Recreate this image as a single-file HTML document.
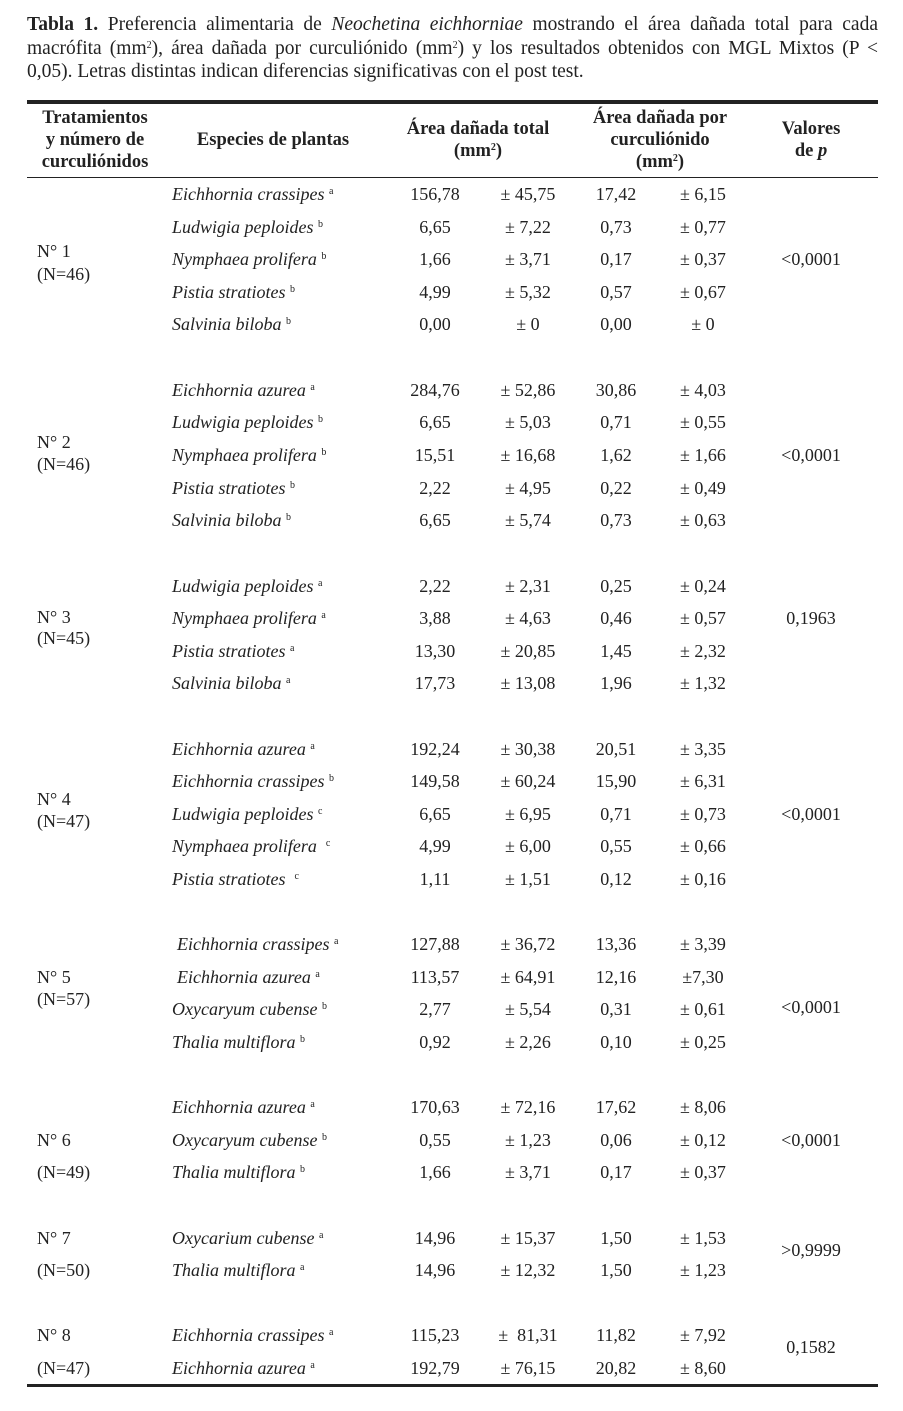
<!DOCTYPE html>
<html><head><meta charset="utf-8"><style>
body{margin:0;width:903px;height:1411px;background:#fff;font-family:"Liberation Serif",serif;color:#222;position:relative;overflow:hidden}
.cl{position:absolute;left:27px;width:851px;font-size:19.5px;line-height:23px;white-space:nowrap}
.j{text-align:justify;text-align-last:justify}
.t{position:absolute;font-size:18px;line-height:20px;white-space:nowrap}
.sp{font-style:italic}
.c{transform:translateX(-50%)}
sup{font-size:10px;font-style:normal;vertical-align:6px;line-height:0}
.h{position:absolute;font-weight:bold;font-size:18.5px;line-height:22px;text-align:center;white-space:nowrap}
.rule{position:absolute;left:27px;width:851px;background:#222}
</style></head><body>
<div class="cl j" style="top:13px"><b>Tabla 1.</b> Preferencia alimentaria de <i>Neochetina eichhorniae</i> mostrando el área dañada total para cada</div>
<div class="cl j" style="top:37px">macrófita (mm<sup>2</sup>), área dañada por curculiónido (mm<sup>2</sup>) y los resultados obtenidos con MGL Mixtos (P &lt;</div>
<div class="cl" style="top:60px">0,05). Letras distintas indican diferencias significativas con el post test.</div>
<div class="rule" style="top:100px;height:4px"></div>
<div class="rule" style="top:177px;height:1px"></div>
<div class="rule" style="top:1384px;height:3px"></div>
<div class="h" style="left:30px;top:107px;width:130px">Tratamientos<br>y número de<br>curculiónidos</div>
<div class="h" style="left:178px;top:129px;width:190px">Especies de plantas</div>
<div class="h" style="left:388px;top:118px;width:180px">Área dañada total<br>(mm<sup>2</sup>)</div>
<div class="h" style="left:570px;top:107px;width:180px">Área dañada por<br>curculiónido<br>(mm<sup>2</sup>)</div>
<div class="h" style="left:761px;top:118px;width:100px">Valores<br>de <i>p</i></div>

<!-- G1 -->
<div class="t" style="left:37px;top:241px">N° 1</div><div class="t" style="left:37px;top:264px">(N=46)</div>
<div class="t c" style="left:811px;top:249px">&lt;0,0001</div>
<div class="t sp" style="left:172px;top:184px">Eichhornia crassipes <sup>a</sup></div><div class="t c" style="left:435px;top:184px">156,78</div><div class="t c" style="left:528px;top:184px">± 45,75</div><div class="t c" style="left:616px;top:184px">17,42</div><div class="t c" style="left:703px;top:184px">± 6,15</div>
<div class="t sp" style="left:172px;top:217px">Ludwigia peploides <sup>b</sup></div><div class="t c" style="left:435px;top:217px">6,65</div><div class="t c" style="left:528px;top:217px">± 7,22</div><div class="t c" style="left:616px;top:217px">0,73</div><div class="t c" style="left:703px;top:217px">± 0,77</div>
<div class="t sp" style="left:172px;top:249px">Nymphaea prolifera <sup>b</sup></div><div class="t c" style="left:435px;top:249px">1,66</div><div class="t c" style="left:528px;top:249px">± 3,71</div><div class="t c" style="left:616px;top:249px">0,17</div><div class="t c" style="left:703px;top:249px">± 0,37</div>
<div class="t sp" style="left:172px;top:282px">Pistia stratiotes <sup>b</sup></div><div class="t c" style="left:435px;top:282px">4,99</div><div class="t c" style="left:528px;top:282px">± 5,32</div><div class="t c" style="left:616px;top:282px">0,57</div><div class="t c" style="left:703px;top:282px">± 0,67</div>
<div class="t sp" style="left:172px;top:314px">Salvinia biloba <sup>b</sup></div><div class="t c" style="left:435px;top:314px">0,00</div><div class="t c" style="left:528px;top:314px">± 0</div><div class="t c" style="left:616px;top:314px">0,00</div><div class="t c" style="left:703px;top:314px">± 0</div>

<!-- G2 -->
<div class="t" style="left:37px;top:432px">N° 2</div><div class="t" style="left:37px;top:454px">(N=46)</div>
<div class="t c" style="left:811px;top:445px">&lt;0,0001</div>
<div class="t sp" style="left:172px;top:380px">Eichhornia azurea <sup>a</sup></div><div class="t c" style="left:435px;top:380px">284,76</div><div class="t c" style="left:528px;top:380px">± 52,86</div><div class="t c" style="left:616px;top:380px">30,86</div><div class="t c" style="left:703px;top:380px">± 4,03</div>
<div class="t sp" style="left:172px;top:412px">Ludwigia peploides <sup>b</sup></div><div class="t c" style="left:435px;top:412px">6,65</div><div class="t c" style="left:528px;top:412px">± 5,03</div><div class="t c" style="left:616px;top:412px">0,71</div><div class="t c" style="left:703px;top:412px">± 0,55</div>
<div class="t sp" style="left:172px;top:445px">Nymphaea prolifera <sup>b</sup></div><div class="t c" style="left:435px;top:445px">15,51</div><div class="t c" style="left:528px;top:445px">± 16,68</div><div class="t c" style="left:616px;top:445px">1,62</div><div class="t c" style="left:703px;top:445px">± 1,66</div>
<div class="t sp" style="left:172px;top:478px">Pistia stratiotes <sup>b</sup></div><div class="t c" style="left:435px;top:478px">2,22</div><div class="t c" style="left:528px;top:478px">± 4,95</div><div class="t c" style="left:616px;top:478px">0,22</div><div class="t c" style="left:703px;top:478px">± 0,49</div>
<div class="t sp" style="left:172px;top:510px">Salvinia biloba <sup>b</sup></div><div class="t c" style="left:435px;top:510px">6,65</div><div class="t c" style="left:528px;top:510px">± 5,74</div><div class="t c" style="left:616px;top:510px">0,73</div><div class="t c" style="left:703px;top:510px">± 0,63</div>

<!-- G3 -->
<div class="t" style="left:37px;top:607px">N° 3</div><div class="t" style="left:37px;top:628px">(N=45)</div>
<div class="t c" style="left:811px;top:608px">0,1963</div>
<div class="t sp" style="left:172px;top:576px">Ludwigia peploides <sup>a</sup></div><div class="t c" style="left:435px;top:576px">2,22</div><div class="t c" style="left:528px;top:576px">± 2,31</div><div class="t c" style="left:616px;top:576px">0,25</div><div class="t c" style="left:703px;top:576px">± 0,24</div>
<div class="t sp" style="left:172px;top:608px">Nymphaea prolifera <sup>a</sup></div><div class="t c" style="left:435px;top:608px">3,88</div><div class="t c" style="left:528px;top:608px">± 4,63</div><div class="t c" style="left:616px;top:608px">0,46</div><div class="t c" style="left:703px;top:608px">± 0,57</div>
<div class="t sp" style="left:172px;top:641px">Pistia stratiotes <sup>a</sup></div><div class="t c" style="left:435px;top:641px">13,30</div><div class="t c" style="left:528px;top:641px">± 20,85</div><div class="t c" style="left:616px;top:641px">1,45</div><div class="t c" style="left:703px;top:641px">± 2,32</div>
<div class="t sp" style="left:172px;top:673px">Salvinia biloba <sup>a</sup></div><div class="t c" style="left:435px;top:673px">17,73</div><div class="t c" style="left:528px;top:673px">± 13,08</div><div class="t c" style="left:616px;top:673px">1,96</div><div class="t c" style="left:703px;top:673px">± 1,32</div>

<!-- G4 -->
<div class="t" style="left:37px;top:789px">N° 4</div><div class="t" style="left:37px;top:811px">(N=47)</div>
<div class="t c" style="left:811px;top:804px">&lt;0,0001</div>
<div class="t sp" style="left:172px;top:739px">Eichhornia azurea <sup>a</sup></div><div class="t c" style="left:435px;top:739px">192,24</div><div class="t c" style="left:528px;top:739px">± 30,38</div><div class="t c" style="left:616px;top:739px">20,51</div><div class="t c" style="left:703px;top:739px">± 3,35</div>
<div class="t sp" style="left:172px;top:771px">Eichhornia crassipes <sup>b</sup></div><div class="t c" style="left:435px;top:771px">149,58</div><div class="t c" style="left:528px;top:771px">± 60,24</div><div class="t c" style="left:616px;top:771px">15,90</div><div class="t c" style="left:703px;top:771px">± 6,31</div>
<div class="t sp" style="left:172px;top:804px">Ludwigia peploides <sup>c</sup></div><div class="t c" style="left:435px;top:804px">6,65</div><div class="t c" style="left:528px;top:804px">± 6,95</div><div class="t c" style="left:616px;top:804px">0,71</div><div class="t c" style="left:703px;top:804px">± 0,73</div>
<div class="t sp" style="left:172px;top:836px">Nymphaea prolifera &nbsp;<sup>c</sup></div><div class="t c" style="left:435px;top:836px">4,99</div><div class="t c" style="left:528px;top:836px">± 6,00</div><div class="t c" style="left:616px;top:836px">0,55</div><div class="t c" style="left:703px;top:836px">± 0,66</div>
<div class="t sp" style="left:172px;top:869px">Pistia stratiotes &nbsp;<sup>c</sup></div><div class="t c" style="left:435px;top:869px">1,11</div><div class="t c" style="left:528px;top:869px">± 1,51</div><div class="t c" style="left:616px;top:869px">0,12</div><div class="t c" style="left:703px;top:869px">± 0,16</div>

<!-- G5 -->
<div class="t" style="left:37px;top:967px">N° 5</div><div class="t" style="left:37px;top:989px">(N=57)</div>
<div class="t c" style="left:811px;top:997px">&lt;0,0001</div>
<div class="t sp" style="left:177px;top:934px">Eichhornia crassipes <sup>a</sup></div><div class="t c" style="left:435px;top:934px">127,88</div><div class="t c" style="left:528px;top:934px">± 36,72</div><div class="t c" style="left:616px;top:934px">13,36</div><div class="t c" style="left:703px;top:934px">± 3,39</div>
<div class="t sp" style="left:177px;top:967px">Eichhornia azurea <sup>a</sup></div><div class="t c" style="left:435px;top:967px">113,57</div><div class="t c" style="left:528px;top:967px">± 64,91</div><div class="t c" style="left:616px;top:967px">12,16</div><div class="t c" style="left:703px;top:967px">±7,30</div>
<div class="t sp" style="left:172px;top:999px">Oxycaryum cubense <sup>b</sup></div><div class="t c" style="left:435px;top:999px">2,77</div><div class="t c" style="left:528px;top:999px">± 5,54</div><div class="t c" style="left:616px;top:999px">0,31</div><div class="t c" style="left:703px;top:999px">± 0,61</div>
<div class="t sp" style="left:172px;top:1032px">Thalia multiflora <sup>b</sup></div><div class="t c" style="left:435px;top:1032px">0,92</div><div class="t c" style="left:528px;top:1032px">± 2,26</div><div class="t c" style="left:616px;top:1032px">0,10</div><div class="t c" style="left:703px;top:1032px">± 0,25</div>

<!-- G6 -->
<div class="t" style="left:37px;top:1130px">N° 6</div><div class="t" style="left:37px;top:1162px">(N=49)</div>
<div class="t c" style="left:811px;top:1130px">&lt;0,0001</div>
<div class="t sp" style="left:172px;top:1097px">Eichhornia azurea <sup>a</sup></div><div class="t c" style="left:435px;top:1097px">170,63</div><div class="t c" style="left:528px;top:1097px">± 72,16</div><div class="t c" style="left:616px;top:1097px">17,62</div><div class="t c" style="left:703px;top:1097px">± 8,06</div>
<div class="t sp" style="left:172px;top:1130px">Oxycaryum cubense <sup>b</sup></div><div class="t c" style="left:435px;top:1130px">0,55</div><div class="t c" style="left:528px;top:1130px">± 1,23</div><div class="t c" style="left:616px;top:1130px">0,06</div><div class="t c" style="left:703px;top:1130px">± 0,12</div>
<div class="t sp" style="left:172px;top:1162px">Thalia multiflora <sup>b</sup></div><div class="t c" style="left:435px;top:1162px">1,66</div><div class="t c" style="left:528px;top:1162px">± 3,71</div><div class="t c" style="left:616px;top:1162px">0,17</div><div class="t c" style="left:703px;top:1162px">± 0,37</div>

<!-- G7 -->
<div class="t" style="left:37px;top:1228px">N° 7</div><div class="t" style="left:37px;top:1260px">(N=50)</div>
<div class="t c" style="left:811px;top:1240px">&gt;0,9999</div>
<div class="t sp" style="left:172px;top:1228px">Oxycarium cubense <sup>a</sup></div><div class="t c" style="left:435px;top:1228px">14,96</div><div class="t c" style="left:528px;top:1228px">± 15,37</div><div class="t c" style="left:616px;top:1228px">1,50</div><div class="t c" style="left:703px;top:1228px">± 1,53</div>
<div class="t sp" style="left:172px;top:1260px">Thalia multiflora <sup>a</sup></div><div class="t c" style="left:435px;top:1260px">14,96</div><div class="t c" style="left:528px;top:1260px">± 12,32</div><div class="t c" style="left:616px;top:1260px">1,50</div><div class="t c" style="left:703px;top:1260px">± 1,23</div>

<!-- G8 -->
<div class="t" style="left:37px;top:1325px">N° 8</div><div class="t" style="left:37px;top:1358px">(N=47)</div>
<div class="t c" style="left:811px;top:1337px">0,1582</div>
<div class="t sp" style="left:172px;top:1325px">Eichhornia crassipes <sup>a</sup></div><div class="t c" style="left:435px;top:1325px">115,23</div><div class="t c" style="left:528px;top:1325px">± &nbsp;81,31</div><div class="t c" style="left:616px;top:1325px">11,82</div><div class="t c" style="left:703px;top:1325px">± 7,92</div>
<div class="t sp" style="left:172px;top:1358px">Eichhornia azurea <sup>a</sup></div><div class="t c" style="left:435px;top:1358px">192,79</div><div class="t c" style="left:528px;top:1358px">± 76,15</div><div class="t c" style="left:616px;top:1358px">20,82</div><div class="t c" style="left:703px;top:1358px">± 8,60</div>
</body></html>
